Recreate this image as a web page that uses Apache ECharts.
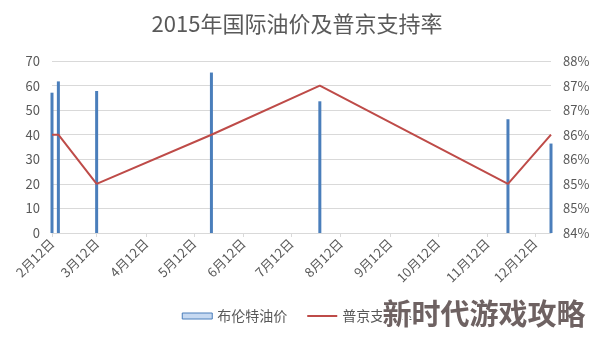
<!DOCTYPE html>
<html>
<head>
<meta charset="utf-8">
<script src="https://cdn.jsdelivr.net/npm/echarts@6/dist/echarts.min.js"></script>
<style>html,body{margin:0;padding:0;background:#fff;}#c{width:594px;height:340px;}</style>
</head>
<body>
<div id="c"></div>
<script>
const titleText = '2015年国际油价及普京支持率';
const dates = ['2015-02-12','2015-02-16','2015-03-12','2015-05-23','2015-07-30','2015-11-25','2015-12-22'];
const oilPrices = [57.1, 61.7, 57.8, 65.3, 53.6, 46.3, 36.4];
const approval = [0.86, 0.86, 0.85, 0.86, 0.87, 0.85, 0.86];
const tickDates = ['2015-02-12','2015-03-12','2015-04-12','2015-05-12','2015-06-12','2015-07-12','2015-08-12','2015-09-12','2015-10-12','2015-11-12','2015-12-12'];
const tickLabels = ['2月12日','3月12日','4月12日','5月12日','6月12日','7月12日','8月12日','9月12日','10月12日','11月12日','12月12日'];
const seriesNames = ['布伦特油价','普京支持率'];
const watermark = '新时代游戏攻略';

function ts(s){ const p = s.split('-').map(Number); return Date.UTC(p[0], p[1]-1, p[2]); }
const tickTs = tickDates.map(ts);
const font = '"Noto Sans CJK SC", "Noto Sans", sans-serif';
const grey = '#595959';

const chart = echarts.init(document.getElementById('c'), null, {renderer:'canvas'});
chart.setOption({
  animation: false,
  backgroundColor: '#fff',
  textStyle: {fontFamily: font},
  title: {text: titleText, left: 'center', top: 8,
    textStyle: {fontSize: 22, fontWeight: 'normal', color: grey, fontFamily: font}},
  legend: {
    bottom: 12, left: 'center', itemWidth: 30, itemHeight: 6, itemGap: 20,
    textStyle: {fontSize: 14, color: grey, fontFamily: font},
    data: [
      {name: seriesNames[0], icon: 'rect', itemStyle: {color: '#c6d9f1', borderColor: '#4a7ebb', borderWidth: 1}},
      {name: seriesNames[1], icon: 'path://M0,0H30V2H0Z', itemStyle: {color: '#be4b48', borderWidth: 0}}
    ]
  },
  grid: {left: 52, right: 43, top: 61, bottom: 107, containLabel: false},
  xAxis: {
    type: 'value',
    min: ts(dates[0]), max: ts(dates[dates.length-1]),
    axisLine: {show: true, lineStyle: {color: '#d9d9d9', width: 1}},
    axisTick: {show: true, length: 4, lineStyle: {color: '#d9d9d9'}, customValues: tickTs},
    axisLabel: {
      customValues: tickTs, rotate: 45, fontSize: 13, color: grey, margin: 8, fontFamily: font,
      hideOverlap: false, showMinLabel: true, showMaxLabel: true,
      formatter: function(v){ const i = tickTs.indexOf(v); return i >= 0 ? tickLabels[i] : ''; }
    },
    splitLine: {show: false}
  },
  yAxis: [
    {type: 'value', min: 0, max: 70, interval: 10,
      axisLine: {show: false}, axisTick: {show: false},
      axisLabel: {fontSize: 13, color: grey, margin: 12, fontFamily: font},
      splitLine: {lineStyle: {color: '#d9d9d9', width: 1}}},
    {type: 'value', min: 0.84, max: 0.875, interval: 0.005, position: 'right',
      axisLine: {show: false}, axisTick: {show: false},
      axisLabel: {fontSize: 13, color: grey, margin: 12, fontFamily: font,
        formatter: function(v){ return Math.round(Math.round(v*10000)/100) + '%'; }},
      splitLine: {show: false}}
  ],
  series: [
    {name: seriesNames[0], type: 'bar', yAxisIndex: 0, barWidth: 3,
      itemStyle: {color: '#4a7ebb'},
      data: dates.map((d, i) => [ts(d), oilPrices[i]])},
    {name: seriesNames[1], type: 'line', yAxisIndex: 1, symbol: 'none', z: 3,
      lineStyle: {color: '#be4b48', width: 2}, itemStyle: {color: '#be4b48'},
      data: dates.map((d, i) => [ts(d), approval[i]])}
  ],
  graphic: [{
    type: 'text', right: 7, bottom: 10, z: 100,
    style: {text: watermark, font: 'bold 29px ' + font, fill: '#6e6262', stroke: '#ffffff', lineWidth: 3}
  }]
});
</script>
</body>
</html>
